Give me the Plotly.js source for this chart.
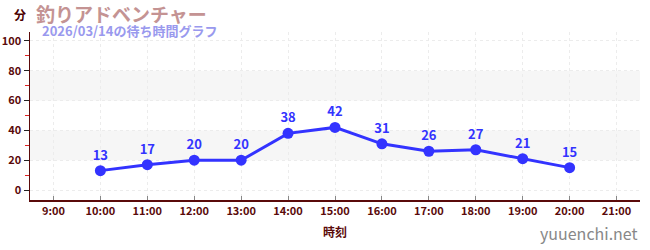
<!DOCTYPE html>
<html><head><meta charset="utf-8">
<script src="https://cdn.plot.ly/plotly-3.0.1.min.js"></script>
<style>html,body{margin:0;padding:0;background:#fff}#c{width:650px;height:250px}</style>
</head><body><div id="c"></div>
<script>
const hours = [10, 11, 12, 13, 14, 15, 16, 17, 18, 19, 20];
const waits = [13, 17, 20, 20, 38, 42, 31, 26, 27, 21, 15];
const tickHours = [9, 10, 11, 12, 13, 14, 15, 16, 17, 18, 19, 20, 21];
const tickLabels = ["9:00","10:00","11:00","12:00","13:00","14:00","15:00","16:00","17:00","18:00","19:00","20:00","21:00"];
const bands = [[20, 40], [60, 80]];
const titleText = "釣りアドベンチャー";
const subtitleText = "2026/03/14の待ち時間グラフ";
const yUnit = "分";
const xTitle = "時刻";
const watermark = "yuuenchi.net";

const F = "'Noto Sans CJK JP', 'Noto Sans', sans-serif";
const axisColor = "#5a0a0a";
const blue = "#3333ff";

const shapes = bands.map(b => ({type:"rect", xref:"paper", yref:"y", x0:0, x1:1, y0:b[0], y1:b[1], fillcolor:"#f6f6f6", line:{width:0}, layer:"below"}));

const trace = {
  x: hours, y: waits, type: "scatter", mode: "lines+markers+text",
  text: waits.map(String), textposition: "top center",
  textfont: {family: F, size: 13, color: blue, weight: "bold"},
  line: {color: blue, width: 3}, marker: {color: blue, size: 11},
  cliponaxis: false, hoverinfo: "none"
};

const layout = {
  width: 650, height: 250,
  margin: {l: 30, r: 10, t: 32, b: 50},
  paper_bgcolor: "#fff", plot_bgcolor: "#fff",
  showlegend: false,
  shapes: shapes,
  xaxis: {
    range: [8.5, 21.5], tickvals: tickHours, ticktext: tickLabels,
    ticks: "inside", ticklen: 4, tickcolor: "#888", tickwidth: 1,
    showline: true, linecolor: axisColor, linewidth: 1.5,
    showgrid: true, gridcolor: "#ececec", griddash: "3px,3px", gridwidth: 1,
    zeroline: false,
    tickfont: {family: F, size: 11, color: axisColor, weight: "bold"},
    title: {text: xTitle, font: {family: F, size: 12, color: axisColor, weight: "bold"}, standoff: 12}
  },
  yaxis: {
    range: [-6.7, 106], tickmode: "linear", tick0: 0, dtick: 20,
    ticks: "outside", ticklen: 5, tickcolor: "#222", tickwidth: 1,
    minor: {dtick: 10, ticks: "outside", ticklen: 4, tickcolor: "#dd2222", showgrid: false},
    showline: true, linecolor: axisColor, linewidth: 1.5,
    showgrid: true, gridcolor: "#ececec", griddash: "3px,3px",
    zeroline: false,
    tickfont: {family: F, size: 11, color: axisColor, weight: "bold"}
  },
  annotations: [
    {text: yUnit, xref: "paper", yref: "paper", x: -0.0164, y: 1.107, xanchor: "center", yanchor: "middle", showarrow: false, font: {family: F, size: 12, color: "#4a0000", weight: "bold"}},
    {text: titleText, xref: "paper", yref: "paper", x: 0.006, y: 1.11, xanchor: "left", yanchor: "middle", showarrow: false, font: {family: F, size: 19, color: "#c49393", weight: "bold"}},
    {text: subtitleText, xref: "paper", yref: "paper", x: 0.016, y: 1.006, xanchor: "left", yanchor: "middle", showarrow: false, font: {family: F, size: 13, color: "#9999ee", weight: "bold"}},
    {text: watermark, xref: "paper", yref: "paper", x: 1.0, y: -0.196, xanchor: "right", yanchor: "middle", showarrow: false, font: {family: F, size: 16, color: "#888"}}
  ]
};

Plotly.newPlot("c", [trace], layout, {displayModeBar: false, staticPlot: true});
</script>
</body></html>
